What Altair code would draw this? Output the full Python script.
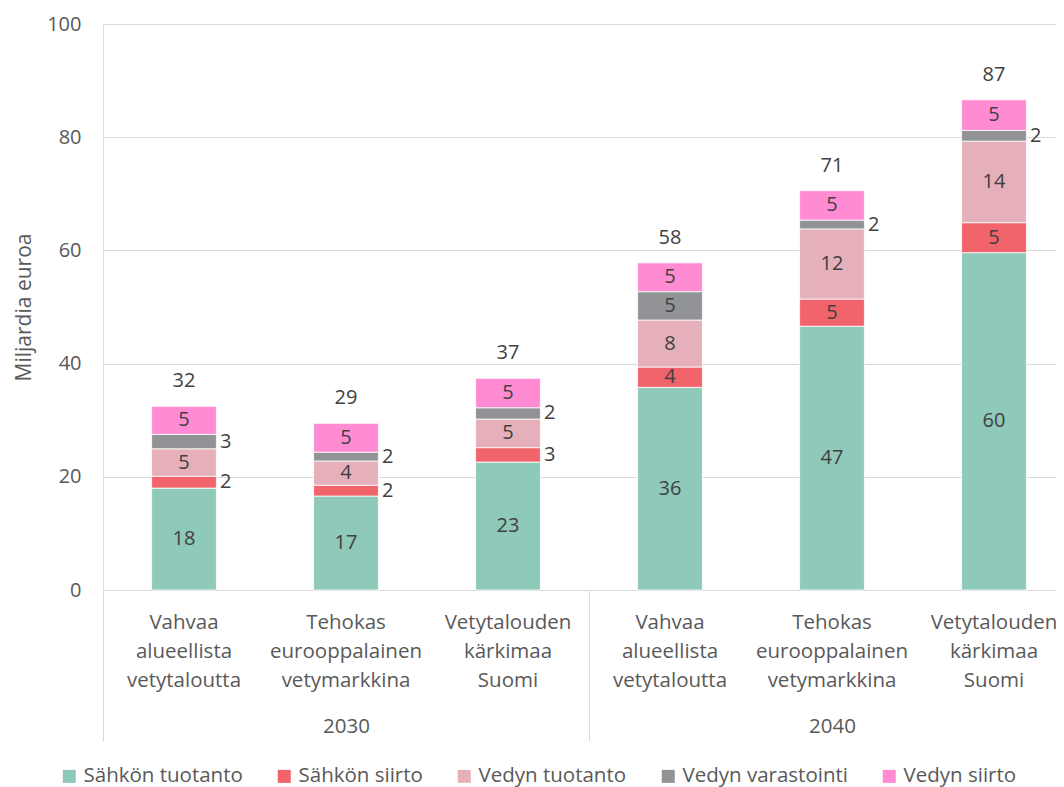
import altair as alt
import pandas as pd

years = ["2030", "2040"]
scenarios = [
    "Vahvaa alueellista vetytaloutta",
    "Tehokas eurooppalainen vetymarkkina",
    "Vetytalouden kärkimaa Suomi",
]
series = ["Sähkön tuotanto", "Sähkön siirto", "Vedyn tuotanto", "Vedyn varastointi", "Vedyn siirto"]
colors = ["#8FC9B9", "#F1646B", "#E5B0B9", "#929397", "#FF8CD3"]

sahkon_tuotanto = [18.0, 16.6, 22.6, 35.8, 46.6, 59.6]
sahkon_siirto = [2.1, 1.9, 2.55, 3.6, 4.8, 5.3]
vedyn_tuotanto = [4.85, 4.3, 5.05, 8.3, 12.4, 14.4]
vedyn_varastointi = [2.55, 1.55, 2.0, 5.0, 1.55, 1.9]
vedyn_siirto = [4.95, 5.1, 5.2, 5.1, 5.2, 5.4]

values_by_series = [sahkon_tuotanto, sahkon_siirto, vedyn_tuotanto, vedyn_varastointi, vedyn_siirto]

keys = [f"{y}|{s}" for y in years for s in scenarios]
rows = []
for si, (name, vals) in enumerate(zip(series, values_by_series)):
    for k, v in zip(keys, vals):
        rows.append({"key": k, "series": name, "order": si, "value": v})
df = pd.DataFrame(rows)

FONT = "Open Sans"
AXIS_GRAY = "#595959"
LABEL_DARK = "#404040"
LINE = "#D9D9D9"
RANGE = [0, 972]

x_cat = alt.X(
    "key:N",
    sort=keys,
    scale=alt.Scale(domain=keys, paddingInner=0, paddingOuter=0, range=RANGE),
    axis=alt.Axis(
        title=None,
        orient="bottom",
        labelExpr="split(split(datum.value, '|')[1], ' ')",
        labelAngle=0,
        labelFont=FONT,
        labelFontSize=20.5,
        labelFontWeight="normal",
        labelColor=AXIS_GRAY,
        labelLineHeight=29,
        labelPadding=22,
        labelBaseline="top",
        ticks=False,
        domain=True,
        domainColor=LINE,
        domainWidth=1,
        labelLimit=300,
    ),
)

y_enc = alt.Y(
    "v0:Q",
    scale=alt.Scale(domain=[0, 100]),
    axis=alt.Axis(
        values=[0, 20, 40, 60, 80, 100],
        title="Miljardia euroa",
        titleFont=FONT,
        titleFontSize=21,
        titleFontWeight="normal",
        titleColor=AXIS_GRAY,
        titlePadding=12,
        labelFont=FONT,
        labelFontSize=20,
        labelColor=AXIS_GRAY,
        labelPadding=22,
        grid=True,
        gridColor=LINE,
        gridWidth=1,
        domain=False,
        ticks=False,
    ),
)

base = alt.Chart(df).transform_stack(
    stack="value",
    groupby=["key"],
    as_=["v0", "v1"],
    sort=[alt.SortField("order", order="ascending")],
).transform_calculate(mid="(datum.v0 + datum.v1) / 2")

bars = base.mark_bar(width=alt.RelativeBandSize(0.4), stroke="white", strokeWidth=0.8).encode(
    x=x_cat,
    y=y_enc,
    y2="v1:Q",
    color=alt.Color(
        "series:N",
        sort=series,
        scale=alt.Scale(domain=series, range=colors),
        legend=alt.Legend(
            title=None,
            orient="none",
            direction="horizontal",
            columns=5,
            legendX=-44,
            legendY=742,
            symbolType="square",
            symbolSize=169,
            symbolStrokeWidth=0,
            labelFont=FONT,
            labelFontSize=20.5,
            labelColor=AXIS_GRAY,
            labelOffset=4,
            columnPadding=31,
            labelLimit=400,
            padding=0,
        ),
    ),
    order=alt.Order("order:Q"),
)

inside = base.transform_filter("datum.value >= 3").mark_text(
    font=FONT, fontSize=20, color=LABEL_DARK, baseline="middle", align="center"
).encode(
    x=x_cat,
    y=alt.Y("mid:Q"),
    text=alt.Text("value:Q", format=".0f"),
)

outside = base.transform_filter("datum.value < 3").mark_text(
    font=FONT, fontSize=20, color=LABEL_DARK, baseline="middle", align="left", dx=36
).encode(
    x=x_cat,
    y=alt.Y("mid:Q"),
    text=alt.Text("value:Q", format=".0f"),
)

totals = alt.Chart(df).transform_aggregate(
    total="sum(value)", groupby=["key"]
).mark_text(
    font=FONT, fontSize=20, color=LABEL_DARK, baseline="alphabetic", align="center", dy=-19
).encode(
    x=x_cat,
    y=alt.Y("total:Q"),
    text=alt.Text("total:Q", format=".0f"),
)

year_layer = alt.Chart(pd.DataFrame({"year": years})).mark_point(opacity=0).encode(
    x=alt.X(
        "year:N",
        sort=years,
        scale=alt.Scale(domain=years, paddingInner=0, paddingOuter=0, range=RANGE),
        axis=alt.Axis(
            title=None,
            orient="bottom",
            domain=False,
            ticks=True,
            tickBand="extent",
            tickSize=151,
            tickColor=LINE,
            tickWidth=1,
            labelPadding=-25,
            labelBaseline="top",
            labelAngle=0,
            labelFont=FONT,
            labelFontSize=20.5,
            labelFontWeight="normal",
            labelColor=AXIS_GRAY,
        ),
    ),
)

main = alt.layer(bars, inside, outside, totals)

chart = alt.layer(main, year_layer).resolve_scale(
    x="independent"
).properties(
    width=953,
    height=566,
    padding={"left": 95, "top": 16, "right": 0, "bottom": 197},
    autosize=alt.AutoSizeParams(type="none"),
).configure_view(stroke=None).configure(background="white")

chart.save("out.html", embed_options={"renderer": "svg", "actions": False})
